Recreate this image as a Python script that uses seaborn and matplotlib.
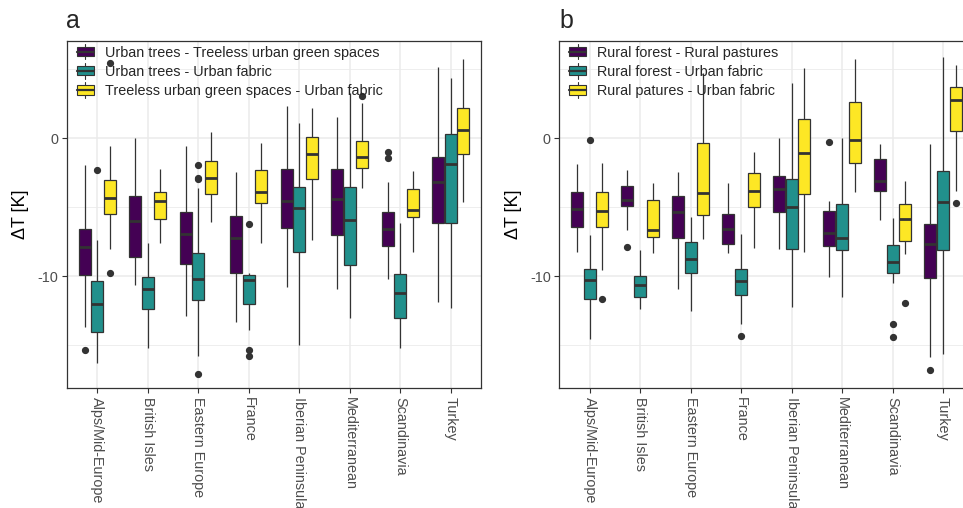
import numpy as np
import pandas as pd
import matplotlib
matplotlib.use("Agg")
import matplotlib.pyplot as plt
import seaborn as sns
from matplotlib.legend_handler import HandlerBase
from matplotlib.patches import Rectangle, Patch
from matplotlib.lines import Line2D

regions = ["Alps/Mid-Europe", "British Isles", "Eastern Europe", "France",
           "Iberian Peninsula", "Mediterranean", "Scandinavia", "Turkey"]
colors = ["#440154", "#21908C", "#FDE725"]

# ---------------- Panel a ----------------
series_a = ["Urban trees - Treeless urban green spaces",
            "Urban trees - Urban fabric",
            "Treeless urban green spaces - Urban fabric"]

a1_lo = [-13.70, -10.63, -12.90, -13.31, -10.77, -10.94, -10.22, -11.88]
a1_q1 = [-9.90, -8.60, -9.08, -9.78, -6.47, -7.00, -7.83, -6.11]
a1_med = [-7.85, -5.99, -6.96, -7.20, -4.52, -4.37, -6.55, -3.16]
a1_q3 = [-6.55, -4.18, -5.36, -5.60, -2.22, -2.22, -5.36, -1.38]
a1_hi = [-1.91, 0.00, -0.56, -2.46, 2.34, 1.55, -3.16, 5.19]
a1_out = [[-15.31], [], [], [], [], [], [-0.97, -1.45], []]

a2_lo = [-16.30, -15.17, -15.77, -13.89, -14.98, -13.00, -15.17, -12.29]
a2_q1 = [-14.03, -12.39, -11.75, -12.00, -8.21, -9.18, -13.00, -6.16]
a2_med = [-11.98, -10.89, -10.19, -10.29, -5.07, -5.94, -11.23, -1.86]
a2_q3 = [-10.34, -10.02, -8.33, -9.90, -3.55, -3.50, -9.83, 0.29]
a2_hi = [-7.37, -7.61, -3.62, -9.73, 1.09, 3.30, -6.16, 4.37]
a2_out = [[-2.29], [], [-1.91, -2.85, -2.97, -17.05], [-6.21, -15.35, -15.77],
          [], [], [], []]

a3_lo = [-8.04, -7.56, -6.04, -7.61, -7.35, -3.62, -8.26, -4.59]
a3_q1 = [-5.48, -5.85, -4.06, -4.71, -2.92, -2.15, -5.68, -1.16]
a3_med = [-4.32, -4.52, -2.85, -3.89, -1.16, -1.35, -5.22, 0.60]
a3_q3 = [-3.04, -3.86, -1.62, -2.27, 0.10, -0.17, -3.65, 2.17]
a3_hi = [-0.56, -2.25, 0.48, -0.36, 2.17, 2.54, -2.39, 5.77]
a3_out = [[5.43, -9.78], [], [], [], [], [3.09], [], []]

# ---------------- Panel b ----------------
series_b = ["Rural forest - Rural pastures",
            "Rural forest - Urban fabric",
            "Rural patures - Urban fabric"]

b1_lo = [-8.26, -6.64, -10.94, -8.33, -8.02, -10.02, -5.94, -15.82]
b1_q1 = [-6.40, -4.88, -7.20, -7.68, -5.34, -7.78, -3.84, -10.12]
b1_med = [-5.14, -4.47, -5.34, -6.57, -3.67, -6.84, -3.07, -7.68]
b1_q3 = [-3.89, -3.48, -4.20, -5.46, -2.71, -5.29, -1.52, -6.21]
b1_hi = [-1.88, -2.27, -2.46, -3.26, 0.05, -4.57, -0.41, -0.43]
b1_out = [[], [-7.85], [], [], [], [-0.27], [], [-16.79]]

b2_lo = [-14.57, -12.37, -12.49, -13.48, -12.25, -11.52, -10.48, -15.65]
b2_q1 = [-11.64, -11.52, -9.78, -11.35, -8.00, -8.12, -9.78, -8.12]
b2_med = [-10.27, -10.60, -8.72, -10.34, -4.98, -7.25, -8.99, -4.59]
b2_q3 = [-9.47, -9.98, -7.54, -9.47, -2.92, -4.80, -7.73, -2.37]
b2_hi = [-6.98, -8.09, -5.68, -6.96, 4.03, 0.00, -5.77, 5.89]
b2_out = [[-0.10], [], [], [-14.35], [], [], [-13.48, -14.37], []]

b3_lo = [-9.54, -8.33, -7.27, -7.92, -8.26, -3.89, -8.38, -3.79]
b3_q1 = [-6.43, -7.17, -5.53, -4.95, -4.03, -1.81, -7.46, 0.51]
b3_med = [-5.29, -6.67, -3.96, -3.84, -1.06, -0.10, -5.85, 2.78]
b3_q3 = [-3.91, -4.47, -0.34, -2.49, 1.38, 2.63, -4.76, 3.70]
b3_hi = [-1.76, -3.26, 4.75, -0.99, 5.10, 5.77, -3.07, 5.29]
b3_out = [[-11.67], [], [], [], [], [], [-11.91], [-4.66]]

y_ticks = [-10, 0]
y_minor = [-15, -5, 5]


def expand(lo, q1, med, q3, hi, outs):
    """Sample whose quartiles / whiskers / outliers equal the read-off values."""
    low = sorted([o for o in outs if o < q1]) + [lo]
    high = [hi] + sorted([o for o in outs if o > q3])
    m = max(len(low), len(high))
    low = low + [q1] * (m - len(low))
    high = [q3] * (m - len(high)) + high
    return low + [q1] + [q1] * (m - 1) + [med] + [q3] * (m - 1) + [q3] + high


def build(series, stats):
    rows = []
    for name, (lo, q1, med, q3, hi, out) in zip(series, stats):
        for i, r in enumerate(regions):
            for v in expand(lo[i], q1[i], med[i], q3[i], hi[i], out[i]):
                rows.append((r, name, v))
    return pd.DataFrame(rows, columns=["region", "series", "value"])


df_a = build(series_a, [(a1_lo, a1_q1, a1_med, a1_q3, a1_hi, a1_out),
                        (a2_lo, a2_q1, a2_med, a2_q3, a2_hi, a2_out),
                        (a3_lo, a3_q1, a3_med, a3_q3, a3_hi, a3_out)])
df_b = build(series_b, [(b1_lo, b1_q1, b1_med, b1_q3, b1_hi, b1_out),
                        (b2_lo, b2_q1, b2_med, b2_q3, b2_hi, b2_out),
                        (b3_lo, b3_q1, b3_med, b3_q3, b3_hi, b3_out)])

sns.set_style("white")
plt.rcParams["font.family"] = ["Liberation Sans", "DejaVu Sans"]
plt.rcParams["axes.unicode_minus"] = False

LINE = "#333333"
TXT = "#4D4D4D"


class BoxHandler(HandlerBase):
    def create_artists(self, legend, orig_handle, xdescent, ydescent,
                       width, height, fontsize, trans):
        fc = orig_handle.get_facecolor()
        x0, y0 = -xdescent, -ydescent
        cx = x0 + width / 2
        whisk = Line2D([cx, cx], [y0 - 0.35 * height, y0 + 1.35 * height],
                       color=LINE, lw=0.8, transform=trans)
        rect = Rectangle((x0, y0), width, height, facecolor=fc,
                         edgecolor=LINE, lw=0.8, transform=trans)
        med = Line2D([x0, x0 + width], [y0 + height / 2] * 2, color=LINE,
                     lw=1.6, transform=trans)
        return [whisk, rect, med]


fig = plt.figure(figsize=(9.63, 5.08), dpi=100)
W, H = 963, 508
ax_a = fig.add_axes([67 / W, (H - 388) / H, 414 / W, 347.3 / H])
ax_b = fig.add_axes([559.3 / W, (H - 388) / H, 414 / W, 347.3 / H])


def draw(ax, df, series, tag, tag_x):
    sns.boxplot(data=df, x="region", y="value", hue="series", order=regions,
                hue_order=series, palette=colors, saturation=1,
                width=0.75, gap=0.05,
                linewidth=0.9, linecolor=LINE, fliersize=4.2, showcaps=False,
                medianprops=dict(linewidth=2.0, color=LINE),
                flierprops=dict(marker="o", markerfacecolor=LINE,
                                markeredgecolor=LINE),
                legend=False, ax=ax)
    ax.set_xlim(-0.6, 7.6)
    ax.set_ylim(-18.1, 7.07)
    ax.set_yticks(y_ticks, labels=[str(t) for t in y_ticks])
    ax.set_yticks(y_minor, minor=True)
    ax.set_axisbelow(True)
    ax.grid(which="major", color="#EBEBEB", lw=1.1)
    ax.grid(which="minor", axis="y", color="#EBEBEB", lw=0.6)
    for s in ax.spines.values():
        s.set_visible(True)
        s.set_color(LINE)
        s.set_linewidth(0.9)
    ax.tick_params(which="major", length=3.7, width=0.8, color=LINE,
                   labelsize=10.4, labelcolor=TXT, pad=2.5,
                   left=True, bottom=True)
    ax.tick_params(which="minor", length=0)
    for lab in ax.get_xticklabels():
        lab.set_rotation(-90)
        lab.set_ha("center")
        lab.set_va("top")
    ax.set_xlabel("")
    ax.set_ylabel("ΔT [K]", fontsize=13, color="black")
    ax.yaxis.label.set_va("center")
    ax.yaxis.set_label_coords(-46 / 414, 0.5)
    handles = [Patch(facecolor=c, edgecolor=LINE) for c in colors]
    ax.legend(handles, series, handler_map={Patch: BoxHandler()},
              loc="upper left", bbox_to_anchor=(9.7 / 414, 1 - 5 / 347.3),
              borderaxespad=0, borderpad=0, frameon=False, fontsize=10.4,
              handlelength=1.2, handleheight=0.6, handletextpad=0.75,
              labelspacing=0.36)
    fig.text(tag_x / W, 1 - 21 / H, tag, fontsize=18, ha="left", va="center")


draw(ax_a, df_a, series_a, "a", 66)
draw(ax_b, df_b, series_b, "b", 559)

fig.savefig("out.png", dpi=100)
